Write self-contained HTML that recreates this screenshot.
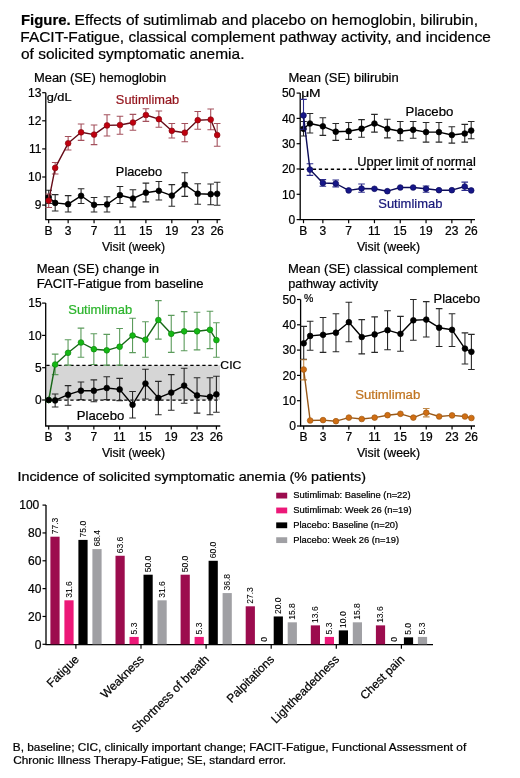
<!DOCTYPE html>
<html><head><meta charset="utf-8"><style>
html,body{margin:0;padding:0;background:#fff;}
svg{display:block;will-change:transform;}
text{stroke:currentColor;stroke-width:0.22px;}
</style></head><body>
<svg width="520" height="778" viewBox="0 0 520 778" font-family='"Liberation Sans", sans-serif'>
<rect width="520" height="778" fill="#fff"/>
<text x="21.01" y="24.80" font-size="15" fill="#000" color="#000" font-weight="bold" textLength="49.60" lengthAdjust="spacingAndGlyphs">Figure.</text>
<text x="74.56" y="24.80" font-size="15" fill="#000" color="#000" textLength="403.50" lengthAdjust="spacingAndGlyphs">Effects of sutimlimab and placebo on hemoglobin, bilirubin,</text>
<text x="20.37" y="42.20" font-size="15" fill="#000" color="#000" textLength="470.59" lengthAdjust="spacingAndGlyphs">FACIT-Fatigue, classical complement pathway activity, and incidence</text>
<text x="20.98" y="59.30" font-size="15" fill="#000" color="#000" textLength="223.48" lengthAdjust="spacingAndGlyphs">of solicited symptomatic anemia.</text>
<text x="33.97" y="82.20" font-size="12.4" fill="#000" color="#000" textLength="132.26" lengthAdjust="spacingAndGlyphs">Mean (SE) hemoglobin</text>
<path d="M45.8 92.7V219.6H220.5" stroke="#000" stroke-width="1.3" fill="none"/>
<line x1="42.20" y1="92.70" x2="45.80" y2="92.70" stroke="#000" stroke-width="1.2"/>
<line x1="42.20" y1="120.80" x2="45.80" y2="120.80" stroke="#000" stroke-width="1.2"/>
<line x1="42.20" y1="148.90" x2="45.80" y2="148.90" stroke="#000" stroke-width="1.2"/>
<line x1="42.20" y1="177.00" x2="45.80" y2="177.00" stroke="#000" stroke-width="1.2"/>
<line x1="42.20" y1="205.10" x2="45.80" y2="205.10" stroke="#000" stroke-width="1.2"/>
<line x1="48.70" y1="219.60" x2="48.70" y2="223.20" stroke="#000" stroke-width="1.2"/>
<line x1="68.14" y1="219.60" x2="68.14" y2="223.20" stroke="#000" stroke-width="1.2"/>
<line x1="94.06" y1="219.60" x2="94.06" y2="223.20" stroke="#000" stroke-width="1.2"/>
<line x1="119.98" y1="219.60" x2="119.98" y2="223.20" stroke="#000" stroke-width="1.2"/>
<line x1="145.90" y1="219.60" x2="145.90" y2="223.20" stroke="#000" stroke-width="1.2"/>
<line x1="171.82" y1="219.60" x2="171.82" y2="223.20" stroke="#000" stroke-width="1.2"/>
<line x1="197.74" y1="219.60" x2="197.74" y2="223.20" stroke="#000" stroke-width="1.2"/>
<line x1="217.18" y1="219.60" x2="217.18" y2="223.20" stroke="#000" stroke-width="1.2"/>
<text x="27.99" y="96.90" font-size="12" fill="#000" color="#000">13</text>
<text x="28.11" y="125.00" font-size="12" fill="#000" color="#000">12</text>
<text x="29.00" y="153.10" font-size="12" fill="#000" color="#000">11</text>
<text x="27.99" y="181.20" font-size="12" fill="#000" color="#000">10</text>
<text x="34.78" y="209.30" font-size="12" fill="#000" color="#000">9</text>
<text x="44.50" y="234.60" font-size="12" fill="#000" color="#000">B</text>
<text x="64.84" y="234.60" font-size="12" fill="#000" color="#000">3</text>
<text x="90.70" y="234.60" font-size="12" fill="#000" color="#000">7</text>
<text x="113.61" y="234.60" font-size="12" fill="#000" color="#000">11</text>
<text x="139.02" y="234.60" font-size="12" fill="#000" color="#000">15</text>
<text x="165.00" y="234.60" font-size="12" fill="#000" color="#000">19</text>
<text x="190.98" y="234.60" font-size="12" fill="#000" color="#000">23</text>
<text x="210.42" y="234.60" font-size="12" fill="#000" color="#000">26</text>
<text x="101.90" y="250.80" font-size="12" fill="#000" color="#000" textLength="63.15" lengthAdjust="spacingAndGlyphs">Visit (week)</text>
<text x="46.69" y="101.40" font-size="11.5" fill="#000" color="#000" textLength="24.84" lengthAdjust="spacingAndGlyphs">g/dL</text>
<text x="115.89" y="104.20" font-size="12.4" fill="#94141c" color="#94141c" textLength="63.38" lengthAdjust="spacingAndGlyphs">Sutimlimab</text>
<text x="115.88" y="175.60" font-size="12.4" fill="#000" color="#000" textLength="46.18" lengthAdjust="spacingAndGlyphs">Placebo</text>
<path d="M48.70 190.20V203.50M45.40 190.20H52.00M45.40 203.50H52.00" stroke="#282828" stroke-width="1.1" fill="none"/>
<path d="M55.18 194.60V211.00M51.88 194.60H58.48M51.88 211.00H58.48" stroke="#282828" stroke-width="1.1" fill="none"/>
<path d="M68.14 195.60V212.00M64.84 195.60H71.44M64.84 212.00H71.44" stroke="#282828" stroke-width="1.1" fill="none"/>
<path d="M81.10 188.80V203.50M77.80 188.80H84.40M77.80 203.50H84.40" stroke="#282828" stroke-width="1.1" fill="none"/>
<path d="M94.06 197.50V212.00M90.76 197.50H97.36M90.76 212.00H97.36" stroke="#282828" stroke-width="1.1" fill="none"/>
<path d="M107.02 196.70V212.00M103.72 196.70H110.32M103.72 212.00H110.32" stroke="#282828" stroke-width="1.1" fill="none"/>
<path d="M119.98 186.50V203.50M116.68 186.50H123.28M116.68 203.50H123.28" stroke="#282828" stroke-width="1.1" fill="none"/>
<path d="M132.94 189.80V207.00M129.64 189.80H136.24M129.64 207.00H136.24" stroke="#282828" stroke-width="1.1" fill="none"/>
<path d="M145.90 183.10V201.90M142.60 183.10H149.20M142.60 201.90H149.20" stroke="#282828" stroke-width="1.1" fill="none"/>
<path d="M158.86 181.50V200.00M155.56 181.50H162.16M155.56 200.00H162.16" stroke="#282828" stroke-width="1.1" fill="none"/>
<path d="M171.82 184.60V206.20M168.52 184.60H175.12M168.52 206.20H175.12" stroke="#282828" stroke-width="1.1" fill="none"/>
<path d="M184.78 172.70V196.40M181.48 172.70H188.08M181.48 196.40H188.08" stroke="#282828" stroke-width="1.1" fill="none"/>
<path d="M197.74 183.70V204.20M194.44 183.70H201.04M194.44 204.20H201.04" stroke="#282828" stroke-width="1.1" fill="none"/>
<path d="M210.70 184.00V204.80M207.40 184.00H214.00M207.40 204.80H214.00" stroke="#282828" stroke-width="1.1" fill="none"/>
<path d="M217.18 182.30V205.20M213.88 182.30H220.48M213.88 205.20H220.48" stroke="#282828" stroke-width="1.1" fill="none"/>
<path d="M48.70 197.20 L55.18 202.90 L68.14 204.20 L81.10 195.80 L94.06 204.80 L107.02 204.40 L119.98 195.20 L132.94 198.50 L145.90 192.70 L158.86 190.80 L171.82 195.60 L184.78 184.60 L197.74 193.70 L210.70 194.20 L217.18 193.80" stroke="#000" stroke-width="1.4" fill="none" stroke-linejoin="round"/>
<circle cx="48.70" cy="197.20" r="2.85" fill="#000" stroke="#000" stroke-width="0.7"/>
<circle cx="55.18" cy="202.90" r="2.85" fill="#000" stroke="#000" stroke-width="0.7"/>
<circle cx="68.14" cy="204.20" r="2.85" fill="#000" stroke="#000" stroke-width="0.7"/>
<circle cx="81.10" cy="195.80" r="2.85" fill="#000" stroke="#000" stroke-width="0.7"/>
<circle cx="94.06" cy="204.80" r="2.85" fill="#000" stroke="#000" stroke-width="0.7"/>
<circle cx="107.02" cy="204.40" r="2.85" fill="#000" stroke="#000" stroke-width="0.7"/>
<circle cx="119.98" cy="195.20" r="2.85" fill="#000" stroke="#000" stroke-width="0.7"/>
<circle cx="132.94" cy="198.50" r="2.85" fill="#000" stroke="#000" stroke-width="0.7"/>
<circle cx="145.90" cy="192.70" r="2.85" fill="#000" stroke="#000" stroke-width="0.7"/>
<circle cx="158.86" cy="190.80" r="2.85" fill="#000" stroke="#000" stroke-width="0.7"/>
<circle cx="171.82" cy="195.60" r="2.85" fill="#000" stroke="#000" stroke-width="0.7"/>
<circle cx="184.78" cy="184.60" r="2.85" fill="#000" stroke="#000" stroke-width="0.7"/>
<circle cx="197.74" cy="193.70" r="2.85" fill="#000" stroke="#000" stroke-width="0.7"/>
<circle cx="210.70" cy="194.20" r="2.85" fill="#000" stroke="#000" stroke-width="0.7"/>
<circle cx="217.18" cy="193.80" r="2.85" fill="#000" stroke="#000" stroke-width="0.7"/>
<path d="M48.70 194.00V207.50M45.40 194.00H52.00M45.40 207.50H52.00" stroke="#a4505c" stroke-width="1.1" fill="none"/>
<path d="M55.18 162.50V174.00M51.88 162.50H58.48M51.88 174.00H58.48" stroke="#a4505c" stroke-width="1.1" fill="none"/>
<path d="M68.14 136.50V150.00M64.84 136.50H71.44M64.84 150.00H71.44" stroke="#a4505c" stroke-width="1.1" fill="none"/>
<path d="M81.10 124.00V140.40M77.80 124.00H84.40M77.80 140.40H84.40" stroke="#a4505c" stroke-width="1.1" fill="none"/>
<path d="M94.06 125.00V144.60M90.76 125.00H97.36M90.76 144.60H97.36" stroke="#a4505c" stroke-width="1.1" fill="none"/>
<path d="M107.02 114.80V136.00M103.72 114.80H110.32M103.72 136.00H110.32" stroke="#a4505c" stroke-width="1.1" fill="none"/>
<path d="M119.98 116.30V134.20M116.68 116.30H123.28M116.68 134.20H123.28" stroke="#a4505c" stroke-width="1.1" fill="none"/>
<path d="M132.94 114.40V130.20M129.64 114.40H136.24M129.64 130.20H136.24" stroke="#a4505c" stroke-width="1.1" fill="none"/>
<path d="M145.90 108.80V121.40M142.60 108.80H149.20M142.60 121.40H149.20" stroke="#a4505c" stroke-width="1.1" fill="none"/>
<path d="M158.86 111.00V127.30M155.56 111.00H162.16M155.56 127.30H162.16" stroke="#a4505c" stroke-width="1.1" fill="none"/>
<path d="M171.82 123.50V138.00M168.52 123.50H175.12M168.52 138.00H175.12" stroke="#a4505c" stroke-width="1.1" fill="none"/>
<path d="M184.78 123.50V141.70M181.48 123.50H188.08M181.48 141.70H188.08" stroke="#a4505c" stroke-width="1.1" fill="none"/>
<path d="M197.74 111.50V129.20M194.44 111.50H201.04M194.44 129.20H201.04" stroke="#a4505c" stroke-width="1.1" fill="none"/>
<path d="M210.70 109.00V129.80M207.40 109.00H214.00M207.40 129.80H214.00" stroke="#a4505c" stroke-width="1.1" fill="none"/>
<path d="M217.18 123.50V146.20M213.88 123.50H220.48M213.88 146.20H220.48" stroke="#a4505c" stroke-width="1.1" fill="none"/>
<path d="M48.70 200.60 L55.18 167.90 L68.14 143.30 L81.10 132.30 L94.06 134.60 L107.02 125.40 L119.98 125.00 L132.94 122.50 L145.90 115.00 L158.86 119.20 L171.82 130.80 L184.78 132.70 L197.74 120.20 L210.70 119.60 L217.18 135.00" stroke="#660c18" stroke-width="1.4" fill="none" stroke-linejoin="round"/>
<circle cx="48.70" cy="200.60" r="2.85" fill="#c0000e" stroke="#880a14" stroke-width="0.7"/>
<circle cx="55.18" cy="167.90" r="2.85" fill="#c0000e" stroke="#880a14" stroke-width="0.7"/>
<circle cx="68.14" cy="143.30" r="2.85" fill="#c0000e" stroke="#880a14" stroke-width="0.7"/>
<circle cx="81.10" cy="132.30" r="2.85" fill="#c0000e" stroke="#880a14" stroke-width="0.7"/>
<circle cx="94.06" cy="134.60" r="2.85" fill="#c0000e" stroke="#880a14" stroke-width="0.7"/>
<circle cx="107.02" cy="125.40" r="2.85" fill="#c0000e" stroke="#880a14" stroke-width="0.7"/>
<circle cx="119.98" cy="125.00" r="2.85" fill="#c0000e" stroke="#880a14" stroke-width="0.7"/>
<circle cx="132.94" cy="122.50" r="2.85" fill="#c0000e" stroke="#880a14" stroke-width="0.7"/>
<circle cx="145.90" cy="115.00" r="2.85" fill="#c0000e" stroke="#880a14" stroke-width="0.7"/>
<circle cx="158.86" cy="119.20" r="2.85" fill="#c0000e" stroke="#880a14" stroke-width="0.7"/>
<circle cx="171.82" cy="130.80" r="2.85" fill="#c0000e" stroke="#880a14" stroke-width="0.7"/>
<circle cx="184.78" cy="132.70" r="2.85" fill="#c0000e" stroke="#880a14" stroke-width="0.7"/>
<circle cx="197.74" cy="120.20" r="2.85" fill="#c0000e" stroke="#880a14" stroke-width="0.7"/>
<circle cx="210.70" cy="119.60" r="2.85" fill="#c0000e" stroke="#880a14" stroke-width="0.7"/>
<circle cx="217.18" cy="135.00" r="2.85" fill="#c0000e" stroke="#880a14" stroke-width="0.7"/>
<text x="288.46" y="82.00" font-size="12.4" fill="#000" color="#000" textLength="110.27" lengthAdjust="spacingAndGlyphs">Mean (SE) bilirubin</text>
<path d="M300.2 93.10000000000001V219.6H475" stroke="#000" stroke-width="1.3" fill="none"/>
<line x1="296.60" y1="219.60" x2="300.20" y2="219.60" stroke="#000" stroke-width="1.2"/>
<line x1="296.60" y1="194.30" x2="300.20" y2="194.30" stroke="#000" stroke-width="1.2"/>
<line x1="296.60" y1="169.00" x2="300.20" y2="169.00" stroke="#000" stroke-width="1.2"/>
<line x1="296.60" y1="143.70" x2="300.20" y2="143.70" stroke="#000" stroke-width="1.2"/>
<line x1="296.60" y1="118.40" x2="300.20" y2="118.40" stroke="#000" stroke-width="1.2"/>
<line x1="296.60" y1="93.10" x2="300.20" y2="93.10" stroke="#000" stroke-width="1.2"/>
<line x1="303.50" y1="219.60" x2="303.50" y2="223.20" stroke="#000" stroke-width="1.2"/>
<line x1="322.85" y1="219.60" x2="322.85" y2="223.20" stroke="#000" stroke-width="1.2"/>
<line x1="348.65" y1="219.60" x2="348.65" y2="223.20" stroke="#000" stroke-width="1.2"/>
<line x1="374.45" y1="219.60" x2="374.45" y2="223.20" stroke="#000" stroke-width="1.2"/>
<line x1="400.25" y1="219.60" x2="400.25" y2="223.20" stroke="#000" stroke-width="1.2"/>
<line x1="426.05" y1="219.60" x2="426.05" y2="223.20" stroke="#000" stroke-width="1.2"/>
<line x1="451.85" y1="219.60" x2="451.85" y2="223.20" stroke="#000" stroke-width="1.2"/>
<line x1="471.20" y1="219.60" x2="471.20" y2="223.20" stroke="#000" stroke-width="1.2"/>
<text x="288.56" y="223.80" font-size="12" fill="#000" color="#000">0</text>
<text x="281.89" y="198.50" font-size="12" fill="#000" color="#000">10</text>
<text x="281.89" y="173.20" font-size="12" fill="#000" color="#000">20</text>
<text x="281.89" y="147.90" font-size="12" fill="#000" color="#000">30</text>
<text x="281.89" y="122.60" font-size="12" fill="#000" color="#000">40</text>
<text x="281.89" y="97.30" font-size="12" fill="#000" color="#000">50</text>
<text x="299.30" y="234.60" font-size="12" fill="#000" color="#000">B</text>
<text x="319.55" y="234.60" font-size="12" fill="#000" color="#000">3</text>
<text x="345.29" y="234.60" font-size="12" fill="#000" color="#000">7</text>
<text x="368.08" y="234.60" font-size="12" fill="#000" color="#000">11</text>
<text x="393.37" y="234.60" font-size="12" fill="#000" color="#000">15</text>
<text x="419.23" y="234.60" font-size="12" fill="#000" color="#000">19</text>
<text x="445.09" y="234.60" font-size="12" fill="#000" color="#000">23</text>
<text x="464.44" y="234.60" font-size="12" fill="#000" color="#000">26</text>
<text x="356.90" y="250.80" font-size="12" fill="#000" color="#000" textLength="63.15" lengthAdjust="spacingAndGlyphs">Visit (week)</text>
<text x="301.17" y="97.40" font-size="11.5" fill="#000" color="#000" textLength="19.43" lengthAdjust="spacingAndGlyphs">μM</text>
<line x1="300.8" y1="169.2" x2="474.5" y2="169.2" stroke="#000" stroke-width="1.4" stroke-dasharray="3.3 2.7"/>
<text x="357.30" y="166.20" font-size="12.5" fill="#000" color="#000" textLength="118.50" lengthAdjust="spacingAndGlyphs">Upper limit of normal</text>
<text x="405.64" y="115.80" font-size="12.4" fill="#000" color="#000" textLength="47.73" lengthAdjust="spacingAndGlyphs">Placebo</text>
<text x="378.28" y="208.00" font-size="12.4" fill="#161678" color="#161678" textLength="64.09" lengthAdjust="spacingAndGlyphs">Sutimlimab</text>
<path d="M303.50 121.50V136.00M300.20 121.50H306.80M300.20 136.00H306.80" stroke="#282828" stroke-width="1.1" fill="none"/>
<path d="M309.95 113.50V133.00M306.65 113.50H313.25M306.65 133.00H313.25" stroke="#282828" stroke-width="1.1" fill="none"/>
<path d="M322.85 117.70V135.40M319.55 117.70H326.15M319.55 135.40H326.15" stroke="#282828" stroke-width="1.1" fill="none"/>
<path d="M335.75 123.50V140.40M332.45 123.50H339.05M332.45 140.40H339.05" stroke="#282828" stroke-width="1.1" fill="none"/>
<path d="M348.65 122.50V139.40M345.35 122.50H351.95M345.35 139.40H351.95" stroke="#282828" stroke-width="1.1" fill="none"/>
<path d="M361.55 119.60V137.30M358.25 119.60H364.85M358.25 137.30H364.85" stroke="#282828" stroke-width="1.1" fill="none"/>
<path d="M374.45 114.40V132.10M371.15 114.40H377.75M371.15 132.10H377.75" stroke="#282828" stroke-width="1.1" fill="none"/>
<path d="M387.35 119.20V137.90M384.05 119.20H390.65M384.05 137.90H390.65" stroke="#282828" stroke-width="1.1" fill="none"/>
<path d="M400.25 121.50V140.80M396.95 121.50H403.55M396.95 140.80H403.55" stroke="#282828" stroke-width="1.1" fill="none"/>
<path d="M413.15 121.50V138.30M409.85 121.50H416.45M409.85 138.30H416.45" stroke="#282828" stroke-width="1.1" fill="none"/>
<path d="M426.05 122.50V142.10M422.75 122.50H429.35M422.75 142.10H429.35" stroke="#282828" stroke-width="1.1" fill="none"/>
<path d="M438.95 122.50V142.10M435.65 122.50H442.25M435.65 142.10H442.25" stroke="#282828" stroke-width="1.1" fill="none"/>
<path d="M451.85 126.70V143.10M448.55 126.70H455.15M448.55 143.10H455.15" stroke="#282828" stroke-width="1.1" fill="none"/>
<path d="M464.75 124.40V142.10M461.45 124.40H468.05M461.45 142.10H468.05" stroke="#282828" stroke-width="1.1" fill="none"/>
<path d="M471.20 121.50V138.80M467.90 121.50H474.50M467.90 138.80H474.50" stroke="#282828" stroke-width="1.1" fill="none"/>
<path d="M303.50 128.80 L309.95 123.50 L322.85 126.30 L335.75 131.70 L348.65 131.20 L361.55 128.70 L374.45 123.50 L387.35 128.80 L400.25 131.20 L413.15 129.80 L426.05 132.10 L438.95 132.10 L451.85 135.00 L464.75 133.50 L471.20 130.60" stroke="#000" stroke-width="1.4" fill="none" stroke-linejoin="round"/>
<circle cx="303.50" cy="128.80" r="2.85" fill="#000" stroke="#000" stroke-width="0.7"/>
<circle cx="309.95" cy="123.50" r="2.85" fill="#000" stroke="#000" stroke-width="0.7"/>
<circle cx="322.85" cy="126.30" r="2.85" fill="#000" stroke="#000" stroke-width="0.7"/>
<circle cx="335.75" cy="131.70" r="2.85" fill="#000" stroke="#000" stroke-width="0.7"/>
<circle cx="348.65" cy="131.20" r="2.85" fill="#000" stroke="#000" stroke-width="0.7"/>
<circle cx="361.55" cy="128.70" r="2.85" fill="#000" stroke="#000" stroke-width="0.7"/>
<circle cx="374.45" cy="123.50" r="2.85" fill="#000" stroke="#000" stroke-width="0.7"/>
<circle cx="387.35" cy="128.80" r="2.85" fill="#000" stroke="#000" stroke-width="0.7"/>
<circle cx="400.25" cy="131.20" r="2.85" fill="#000" stroke="#000" stroke-width="0.7"/>
<circle cx="413.15" cy="129.80" r="2.85" fill="#000" stroke="#000" stroke-width="0.7"/>
<circle cx="426.05" cy="132.10" r="2.85" fill="#000" stroke="#000" stroke-width="0.7"/>
<circle cx="438.95" cy="132.10" r="2.85" fill="#000" stroke="#000" stroke-width="0.7"/>
<circle cx="451.85" cy="135.00" r="2.85" fill="#000" stroke="#000" stroke-width="0.7"/>
<circle cx="464.75" cy="133.50" r="2.85" fill="#000" stroke="#000" stroke-width="0.7"/>
<circle cx="471.20" cy="130.60" r="2.85" fill="#000" stroke="#000" stroke-width="0.7"/>
<path d="M303.50 99.40V129.20M300.20 99.40H306.80M300.20 129.20H306.80" stroke="#2c2c8c" stroke-width="1.1" fill="none"/>
<path d="M309.95 163.80V175.40M306.65 163.80H313.25M306.65 175.40H313.25" stroke="#2c2c8c" stroke-width="1.1" fill="none"/>
<path d="M322.85 179.60V186.30M319.55 179.60H326.15M319.55 186.30H326.15" stroke="#2c2c8c" stroke-width="1.1" fill="none"/>
<path d="M335.75 180.00V186.90M332.45 180.00H339.05M332.45 186.90H339.05" stroke="#2c2c8c" stroke-width="1.1" fill="none"/>
<path d="M361.55 184.00V192.30M358.25 184.00H364.85M358.25 192.30H364.85" stroke="#2c2c8c" stroke-width="1.1" fill="none"/>
<path d="M426.05 186.00V192.30M422.75 186.00H429.35M422.75 192.30H429.35" stroke="#2c2c8c" stroke-width="1.1" fill="none"/>
<path d="M464.75 182.10V190.40M461.45 182.10H468.05M461.45 190.40H468.05" stroke="#2c2c8c" stroke-width="1.1" fill="none"/>
<path d="M303.50 115.40 L309.95 169.60 L322.85 183.00 L335.75 183.50 L348.65 190.40 L361.55 188.50 L374.45 188.80 L387.35 191.20 L400.25 187.50 L413.15 187.50 L426.05 188.80 L438.95 190.20 L451.85 190.20 L464.75 186.50 L471.20 190.40" stroke="#0c0c58" stroke-width="1.4" fill="none" stroke-linejoin="round"/>
<circle cx="303.50" cy="115.40" r="2.85" fill="#161688" stroke="#0e0e60" stroke-width="0.7"/>
<circle cx="309.95" cy="169.60" r="2.85" fill="#161688" stroke="#0e0e60" stroke-width="0.7"/>
<circle cx="322.85" cy="183.00" r="2.85" fill="#161688" stroke="#0e0e60" stroke-width="0.7"/>
<circle cx="335.75" cy="183.50" r="2.85" fill="#161688" stroke="#0e0e60" stroke-width="0.7"/>
<circle cx="348.65" cy="190.40" r="2.85" fill="#161688" stroke="#0e0e60" stroke-width="0.7"/>
<circle cx="361.55" cy="188.50" r="2.85" fill="#161688" stroke="#0e0e60" stroke-width="0.7"/>
<circle cx="374.45" cy="188.80" r="2.85" fill="#161688" stroke="#0e0e60" stroke-width="0.7"/>
<circle cx="387.35" cy="191.20" r="2.85" fill="#161688" stroke="#0e0e60" stroke-width="0.7"/>
<circle cx="400.25" cy="187.50" r="2.85" fill="#161688" stroke="#0e0e60" stroke-width="0.7"/>
<circle cx="413.15" cy="187.50" r="2.85" fill="#161688" stroke="#0e0e60" stroke-width="0.7"/>
<circle cx="426.05" cy="188.80" r="2.85" fill="#161688" stroke="#0e0e60" stroke-width="0.7"/>
<circle cx="438.95" cy="190.20" r="2.85" fill="#161688" stroke="#0e0e60" stroke-width="0.7"/>
<circle cx="451.85" cy="190.20" r="2.85" fill="#161688" stroke="#0e0e60" stroke-width="0.7"/>
<circle cx="464.75" cy="186.50" r="2.85" fill="#161688" stroke="#0e0e60" stroke-width="0.7"/>
<circle cx="471.20" cy="190.40" r="2.85" fill="#161688" stroke="#0e0e60" stroke-width="0.7"/>
<text x="36.76" y="273.10" font-size="12.4" fill="#000" color="#000" textLength="122.37" lengthAdjust="spacingAndGlyphs">Mean (SE) change in</text>
<text x="36.75" y="287.70" font-size="12.4" fill="#000" color="#000" textLength="166.72" lengthAdjust="spacingAndGlyphs">FACIT-Fatigue from baseline</text>
<rect x="46.3" y="365.4" width="173.7" height="34.7" fill="#d6d6d6"/>
<line x1="46.3" y1="365.4" x2="219.5" y2="365.4" stroke="#000" stroke-width="1.4" stroke-dasharray="3.3 2.7"/>
<line x1="46.3" y1="400.1" x2="219.5" y2="400.1" stroke="#000" stroke-width="1.4" stroke-dasharray="3.3 2.7"/>
<path d="M45.7 303.1V426H220.3" stroke="#000" stroke-width="1.3" fill="none"/>
<line x1="42.10" y1="400.00" x2="45.70" y2="400.00" stroke="#000" stroke-width="1.2"/>
<line x1="42.10" y1="367.70" x2="45.70" y2="367.70" stroke="#000" stroke-width="1.2"/>
<line x1="42.10" y1="335.40" x2="45.70" y2="335.40" stroke="#000" stroke-width="1.2"/>
<line x1="42.10" y1="303.10" x2="45.70" y2="303.10" stroke="#000" stroke-width="1.2"/>
<line x1="48.70" y1="426.00" x2="48.70" y2="429.60" stroke="#000" stroke-width="1.2"/>
<line x1="68.05" y1="426.00" x2="68.05" y2="429.60" stroke="#000" stroke-width="1.2"/>
<line x1="93.85" y1="426.00" x2="93.85" y2="429.60" stroke="#000" stroke-width="1.2"/>
<line x1="119.65" y1="426.00" x2="119.65" y2="429.60" stroke="#000" stroke-width="1.2"/>
<line x1="145.45" y1="426.00" x2="145.45" y2="429.60" stroke="#000" stroke-width="1.2"/>
<line x1="171.25" y1="426.00" x2="171.25" y2="429.60" stroke="#000" stroke-width="1.2"/>
<line x1="197.05" y1="426.00" x2="197.05" y2="429.60" stroke="#000" stroke-width="1.2"/>
<line x1="216.40" y1="426.00" x2="216.40" y2="429.60" stroke="#000" stroke-width="1.2"/>
<text x="34.96" y="404.20" font-size="12" fill="#000" color="#000">0</text>
<text x="34.96" y="371.90" font-size="12" fill="#000" color="#000">5</text>
<text x="28.29" y="339.60" font-size="12" fill="#000" color="#000">10</text>
<text x="28.29" y="307.30" font-size="12" fill="#000" color="#000">15</text>
<text x="44.50" y="440.60" font-size="12" fill="#000" color="#000">B</text>
<text x="64.75" y="440.60" font-size="12" fill="#000" color="#000">3</text>
<text x="90.49" y="440.60" font-size="12" fill="#000" color="#000">7</text>
<text x="113.28" y="440.60" font-size="12" fill="#000" color="#000">11</text>
<text x="138.57" y="440.60" font-size="12" fill="#000" color="#000">15</text>
<text x="164.43" y="440.60" font-size="12" fill="#000" color="#000">19</text>
<text x="190.29" y="440.60" font-size="12" fill="#000" color="#000">23</text>
<text x="209.64" y="440.60" font-size="12" fill="#000" color="#000">26</text>
<text x="101.90" y="456.80" font-size="12" fill="#000" color="#000" textLength="63.15" lengthAdjust="spacingAndGlyphs">Visit (week)</text>
<text x="220.39" y="368.70" font-size="11.5" fill="#000" color="#000" textLength="20.90" lengthAdjust="spacingAndGlyphs">CIC</text>
<text x="68.28" y="314.30" font-size="12.4" fill="#2cb42c" color="#2cb42c" textLength="63.99" lengthAdjust="spacingAndGlyphs">Sutimlimab</text>
<text x="76.85" y="419.50" font-size="12.4" fill="#000" color="#000" textLength="47.42" lengthAdjust="spacingAndGlyphs">Placebo</text>
<path d="M55.15 354.10V374.60M51.85 354.10H58.45M51.85 374.60H58.45" stroke="#5c9c5c" stroke-width="1.1" fill="none"/>
<path d="M68.05 339.70V365.10M64.75 339.70H71.35M64.75 365.10H71.35" stroke="#5c9c5c" stroke-width="1.1" fill="none"/>
<path d="M80.95 328.10V357.30M77.65 328.10H84.25M77.65 357.30H84.25" stroke="#5c9c5c" stroke-width="1.1" fill="none"/>
<path d="M93.85 333.80V364.50M90.55 333.80H97.15M90.55 364.50H97.15" stroke="#5c9c5c" stroke-width="1.1" fill="none"/>
<path d="M106.75 334.40V365.10M103.45 334.40H110.05M103.45 365.10H110.05" stroke="#5c9c5c" stroke-width="1.1" fill="none"/>
<path d="M119.65 328.50V365.10M116.35 328.50H122.95M116.35 365.10H122.95" stroke="#5c9c5c" stroke-width="1.1" fill="none"/>
<path d="M132.55 318.30V352.60M129.25 318.30H135.85M129.25 352.60H135.85" stroke="#5c9c5c" stroke-width="1.1" fill="none"/>
<path d="M145.45 321.70V357.30M142.15 321.70H148.75M142.15 357.30H148.75" stroke="#5c9c5c" stroke-width="1.1" fill="none"/>
<path d="M158.35 300.60V339.10M155.05 300.60H161.65M155.05 339.10H161.65" stroke="#5c9c5c" stroke-width="1.1" fill="none"/>
<path d="M171.25 315.40V352.40M167.95 315.40H174.55M167.95 352.40H174.55" stroke="#5c9c5c" stroke-width="1.1" fill="none"/>
<path d="M184.15 311.60V350.70M180.85 311.60H187.45M180.85 350.70H187.45" stroke="#5c9c5c" stroke-width="1.1" fill="none"/>
<path d="M197.05 312.20V349.90M193.75 312.20H200.35M193.75 349.90H200.35" stroke="#5c9c5c" stroke-width="1.1" fill="none"/>
<path d="M209.95 311.20V348.60M206.65 311.20H213.25M206.65 348.60H213.25" stroke="#5c9c5c" stroke-width="1.1" fill="none"/>
<path d="M216.40 322.80V357.30M213.10 322.80H219.70M213.10 357.30H219.70" stroke="#5c9c5c" stroke-width="1.1" fill="none"/>
<path d="M48.70 400.00 L55.15 364.50 L68.05 352.80 L80.95 342.50 L93.85 349.20 L106.75 350.30 L119.65 346.70 L132.55 335.50 L145.45 339.70 L158.35 320.00 L171.25 333.80 L184.15 331.30 L197.05 331.30 L209.95 329.80 L216.40 340.10" stroke="#186818" stroke-width="1.4" fill="none" stroke-linejoin="round"/>
<circle cx="48.70" cy="400.00" r="2.85" fill="#14b814" stroke="#108a10" stroke-width="0.7"/>
<circle cx="55.15" cy="364.50" r="2.85" fill="#14b814" stroke="#108a10" stroke-width="0.7"/>
<circle cx="68.05" cy="352.80" r="2.85" fill="#14b814" stroke="#108a10" stroke-width="0.7"/>
<circle cx="80.95" cy="342.50" r="2.85" fill="#14b814" stroke="#108a10" stroke-width="0.7"/>
<circle cx="93.85" cy="349.20" r="2.85" fill="#14b814" stroke="#108a10" stroke-width="0.7"/>
<circle cx="106.75" cy="350.30" r="2.85" fill="#14b814" stroke="#108a10" stroke-width="0.7"/>
<circle cx="119.65" cy="346.70" r="2.85" fill="#14b814" stroke="#108a10" stroke-width="0.7"/>
<circle cx="132.55" cy="335.50" r="2.85" fill="#14b814" stroke="#108a10" stroke-width="0.7"/>
<circle cx="145.45" cy="339.70" r="2.85" fill="#14b814" stroke="#108a10" stroke-width="0.7"/>
<circle cx="158.35" cy="320.00" r="2.85" fill="#14b814" stroke="#108a10" stroke-width="0.7"/>
<circle cx="171.25" cy="333.80" r="2.85" fill="#14b814" stroke="#108a10" stroke-width="0.7"/>
<circle cx="184.15" cy="331.30" r="2.85" fill="#14b814" stroke="#108a10" stroke-width="0.7"/>
<circle cx="197.05" cy="331.30" r="2.85" fill="#14b814" stroke="#108a10" stroke-width="0.7"/>
<circle cx="209.95" cy="329.80" r="2.85" fill="#14b814" stroke="#108a10" stroke-width="0.7"/>
<circle cx="216.40" cy="340.10" r="2.85" fill="#14b814" stroke="#108a10" stroke-width="0.7"/>
<path d="M55.15 394.00V407.00M51.85 394.00H58.45M51.85 407.00H58.45" stroke="#282828" stroke-width="1.1" fill="none"/>
<path d="M68.05 385.60V405.30M64.75 385.60H71.35M64.75 405.30H71.35" stroke="#282828" stroke-width="1.1" fill="none"/>
<path d="M80.95 382.00V399.60M77.65 382.00H84.25M77.65 399.60H84.25" stroke="#282828" stroke-width="1.1" fill="none"/>
<path d="M93.85 379.90V401.70M90.55 379.90H97.15M90.55 401.70H97.15" stroke="#282828" stroke-width="1.1" fill="none"/>
<path d="M106.75 376.70V399.60M103.45 376.70H110.05M103.45 399.60H110.05" stroke="#282828" stroke-width="1.1" fill="none"/>
<path d="M119.65 378.40V400.60M116.35 378.40H122.95M116.35 400.60H122.95" stroke="#282828" stroke-width="1.1" fill="none"/>
<path d="M132.55 391.50V418.00M129.25 391.50H135.85M129.25 418.00H135.85" stroke="#282828" stroke-width="1.1" fill="none"/>
<path d="M145.45 369.30V399.00M142.15 369.30H148.75M142.15 399.00H148.75" stroke="#282828" stroke-width="1.1" fill="none"/>
<path d="M158.35 381.40V414.80M155.05 381.40H161.65M155.05 414.80H161.65" stroke="#282828" stroke-width="1.1" fill="none"/>
<path d="M171.25 374.60V410.20M167.95 374.60H174.55M167.95 410.20H174.55" stroke="#282828" stroke-width="1.1" fill="none"/>
<path d="M184.15 368.30V403.20M180.85 368.30H187.45M180.85 403.20H187.45" stroke="#282828" stroke-width="1.1" fill="none"/>
<path d="M197.05 377.80V413.10M193.75 377.80H200.35M193.75 413.10H200.35" stroke="#282828" stroke-width="1.1" fill="none"/>
<path d="M209.95 377.80V414.80M206.65 377.80H213.25M206.65 414.80H213.25" stroke="#282828" stroke-width="1.1" fill="none"/>
<path d="M216.40 376.30V412.30M213.10 376.30H219.70M213.10 412.30H219.70" stroke="#282828" stroke-width="1.1" fill="none"/>
<path d="M48.70 400.00 L55.15 400.40 L68.05 394.70 L80.95 390.70 L93.85 390.70 L106.75 388.00 L119.65 389.40 L132.55 404.70 L145.45 383.50 L158.35 397.90 L171.25 392.60 L184.15 385.60 L197.05 395.40 L209.95 396.80 L216.40 394.30" stroke="#000" stroke-width="1.4" fill="none" stroke-linejoin="round"/>
<circle cx="48.70" cy="400.00" r="2.85" fill="#000" stroke="#000" stroke-width="0.7"/>
<circle cx="55.15" cy="400.40" r="2.85" fill="#000" stroke="#000" stroke-width="0.7"/>
<circle cx="68.05" cy="394.70" r="2.85" fill="#000" stroke="#000" stroke-width="0.7"/>
<circle cx="80.95" cy="390.70" r="2.85" fill="#000" stroke="#000" stroke-width="0.7"/>
<circle cx="93.85" cy="390.70" r="2.85" fill="#000" stroke="#000" stroke-width="0.7"/>
<circle cx="106.75" cy="388.00" r="2.85" fill="#000" stroke="#000" stroke-width="0.7"/>
<circle cx="119.65" cy="389.40" r="2.85" fill="#000" stroke="#000" stroke-width="0.7"/>
<circle cx="132.55" cy="404.70" r="2.85" fill="#000" stroke="#000" stroke-width="0.7"/>
<circle cx="145.45" cy="383.50" r="2.85" fill="#000" stroke="#000" stroke-width="0.7"/>
<circle cx="158.35" cy="397.90" r="2.85" fill="#000" stroke="#000" stroke-width="0.7"/>
<circle cx="171.25" cy="392.60" r="2.85" fill="#000" stroke="#000" stroke-width="0.7"/>
<circle cx="184.15" cy="385.60" r="2.85" fill="#000" stroke="#000" stroke-width="0.7"/>
<circle cx="197.05" cy="395.40" r="2.85" fill="#000" stroke="#000" stroke-width="0.7"/>
<circle cx="209.95" cy="396.80" r="2.85" fill="#000" stroke="#000" stroke-width="0.7"/>
<circle cx="216.40" cy="394.30" r="2.85" fill="#000" stroke="#000" stroke-width="0.7"/>
<text x="287.96" y="273.00" font-size="12.4" fill="#000" color="#000" textLength="189.31" lengthAdjust="spacingAndGlyphs">Mean (SE) classical complement</text>
<text x="288.24" y="287.70" font-size="12.4" fill="#000" color="#000" textLength="89.86" lengthAdjust="spacingAndGlyphs">pathway activity</text>
<path d="M300.6 299.5V426.0H475" stroke="#000" stroke-width="1.3" fill="none"/>
<line x1="297.00" y1="426.00" x2="300.60" y2="426.00" stroke="#000" stroke-width="1.2"/>
<line x1="297.00" y1="400.70" x2="300.60" y2="400.70" stroke="#000" stroke-width="1.2"/>
<line x1="297.00" y1="375.40" x2="300.60" y2="375.40" stroke="#000" stroke-width="1.2"/>
<line x1="297.00" y1="350.10" x2="300.60" y2="350.10" stroke="#000" stroke-width="1.2"/>
<line x1="297.00" y1="324.80" x2="300.60" y2="324.80" stroke="#000" stroke-width="1.2"/>
<line x1="297.00" y1="299.50" x2="300.60" y2="299.50" stroke="#000" stroke-width="1.2"/>
<line x1="303.70" y1="426.00" x2="303.70" y2="429.60" stroke="#000" stroke-width="1.2"/>
<line x1="323.05" y1="426.00" x2="323.05" y2="429.60" stroke="#000" stroke-width="1.2"/>
<line x1="348.85" y1="426.00" x2="348.85" y2="429.60" stroke="#000" stroke-width="1.2"/>
<line x1="374.65" y1="426.00" x2="374.65" y2="429.60" stroke="#000" stroke-width="1.2"/>
<line x1="400.45" y1="426.00" x2="400.45" y2="429.60" stroke="#000" stroke-width="1.2"/>
<line x1="426.25" y1="426.00" x2="426.25" y2="429.60" stroke="#000" stroke-width="1.2"/>
<line x1="452.05" y1="426.00" x2="452.05" y2="429.60" stroke="#000" stroke-width="1.2"/>
<line x1="471.40" y1="426.00" x2="471.40" y2="429.60" stroke="#000" stroke-width="1.2"/>
<text x="289.16" y="430.20" font-size="12" fill="#000" color="#000">0</text>
<text x="282.49" y="404.90" font-size="12" fill="#000" color="#000">10</text>
<text x="282.49" y="379.60" font-size="12" fill="#000" color="#000">20</text>
<text x="282.49" y="354.30" font-size="12" fill="#000" color="#000">30</text>
<text x="282.49" y="329.00" font-size="12" fill="#000" color="#000">40</text>
<text x="282.49" y="303.70" font-size="12" fill="#000" color="#000">50</text>
<text x="299.50" y="440.60" font-size="12" fill="#000" color="#000">B</text>
<text x="319.75" y="440.60" font-size="12" fill="#000" color="#000">3</text>
<text x="345.49" y="440.60" font-size="12" fill="#000" color="#000">7</text>
<text x="368.28" y="440.60" font-size="12" fill="#000" color="#000">11</text>
<text x="393.57" y="440.60" font-size="12" fill="#000" color="#000">15</text>
<text x="419.43" y="440.60" font-size="12" fill="#000" color="#000">19</text>
<text x="445.29" y="440.60" font-size="12" fill="#000" color="#000">23</text>
<text x="464.64" y="440.60" font-size="12" fill="#000" color="#000">26</text>
<text x="356.90" y="456.80" font-size="12" fill="#000" color="#000" textLength="63.15" lengthAdjust="spacingAndGlyphs">Visit (week)</text>
<text x="303.89" y="302.40" font-size="11.5" fill="#000" color="#000" textLength="9.32" lengthAdjust="spacingAndGlyphs">%</text>
<text x="433.57" y="302.70" font-size="12.4" fill="#000" color="#000" textLength="46.49" lengthAdjust="spacingAndGlyphs">Placebo</text>
<text x="355.17" y="399.40" font-size="12.4" fill="#c07420" color="#c07420" textLength="65.10" lengthAdjust="spacingAndGlyphs">Sutimlimab</text>
<path d="M303.70 326.40V359.40M300.40 326.40H307.00M300.40 359.40H307.00" stroke="#282828" stroke-width="1.1" fill="none"/>
<path d="M310.15 321.30V350.30M306.85 321.30H313.45M306.85 350.30H313.45" stroke="#282828" stroke-width="1.1" fill="none"/>
<path d="M323.05 317.50V352.40M319.75 317.50H326.35M319.75 352.40H326.35" stroke="#282828" stroke-width="1.1" fill="none"/>
<path d="M335.95 313.70V351.80M332.65 313.70H339.25M332.65 351.80H339.25" stroke="#282828" stroke-width="1.1" fill="none"/>
<path d="M348.85 302.30V341.80M345.55 302.30H352.15M345.55 341.80H352.15" stroke="#282828" stroke-width="1.1" fill="none"/>
<path d="M361.75 319.60V353.90M358.45 319.60H365.05M358.45 353.90H365.05" stroke="#282828" stroke-width="1.1" fill="none"/>
<path d="M374.65 316.90V352.40M371.35 316.90H377.95M371.35 352.40H377.95" stroke="#282828" stroke-width="1.1" fill="none"/>
<path d="M387.55 310.70V349.70M384.25 310.70H390.85M384.25 349.70H390.85" stroke="#282828" stroke-width="1.1" fill="none"/>
<path d="M400.45 316.40V351.30M397.15 316.40H403.75M397.15 351.30H403.75" stroke="#282828" stroke-width="1.1" fill="none"/>
<path d="M413.35 299.50V340.30M410.05 299.50H416.65M410.05 340.30H416.65" stroke="#282828" stroke-width="1.1" fill="none"/>
<path d="M426.25 301.60V337.00M422.95 301.60H429.55M422.95 337.00H429.55" stroke="#282828" stroke-width="1.1" fill="none"/>
<path d="M439.15 308.60V346.50M435.85 308.60H442.45M435.85 346.50H442.45" stroke="#282828" stroke-width="1.1" fill="none"/>
<path d="M452.05 313.70V346.50M448.75 313.70H455.35M448.75 346.50H455.35" stroke="#282828" stroke-width="1.1" fill="none"/>
<path d="M464.95 332.90V364.00M461.65 332.90H468.25M461.65 364.00H468.25" stroke="#282828" stroke-width="1.1" fill="none"/>
<path d="M471.40 334.40V369.50M468.10 334.40H474.70M468.10 369.50H474.70" stroke="#282828" stroke-width="1.1" fill="none"/>
<path d="M303.70 343.30 L310.15 335.90 L323.05 334.80 L335.95 332.70 L348.85 322.20 L361.75 337.00 L374.65 334.40 L387.55 330.20 L400.45 333.80 L413.35 320.30 L426.25 319.60 L439.15 327.70 L452.05 329.80 L464.95 348.60 L471.40 351.80" stroke="#000" stroke-width="1.4" fill="none" stroke-linejoin="round"/>
<circle cx="303.70" cy="343.30" r="2.85" fill="#000" stroke="#000" stroke-width="0.7"/>
<circle cx="310.15" cy="335.90" r="2.85" fill="#000" stroke="#000" stroke-width="0.7"/>
<circle cx="323.05" cy="334.80" r="2.85" fill="#000" stroke="#000" stroke-width="0.7"/>
<circle cx="335.95" cy="332.70" r="2.85" fill="#000" stroke="#000" stroke-width="0.7"/>
<circle cx="348.85" cy="322.20" r="2.85" fill="#000" stroke="#000" stroke-width="0.7"/>
<circle cx="361.75" cy="337.00" r="2.85" fill="#000" stroke="#000" stroke-width="0.7"/>
<circle cx="374.65" cy="334.40" r="2.85" fill="#000" stroke="#000" stroke-width="0.7"/>
<circle cx="387.55" cy="330.20" r="2.85" fill="#000" stroke="#000" stroke-width="0.7"/>
<circle cx="400.45" cy="333.80" r="2.85" fill="#000" stroke="#000" stroke-width="0.7"/>
<circle cx="413.35" cy="320.30" r="2.85" fill="#000" stroke="#000" stroke-width="0.7"/>
<circle cx="426.25" cy="319.60" r="2.85" fill="#000" stroke="#000" stroke-width="0.7"/>
<circle cx="439.15" cy="327.70" r="2.85" fill="#000" stroke="#000" stroke-width="0.7"/>
<circle cx="452.05" cy="329.80" r="2.85" fill="#000" stroke="#000" stroke-width="0.7"/>
<circle cx="464.95" cy="348.60" r="2.85" fill="#000" stroke="#000" stroke-width="0.7"/>
<circle cx="471.40" cy="351.80" r="2.85" fill="#000" stroke="#000" stroke-width="0.7"/>
<path d="M303.70 359.80V379.90M300.40 359.80H307.00M300.40 379.90H307.00" stroke="#c08848" stroke-width="1.1" fill="none"/>
<path d="M426.25 408.50V416.90M422.95 408.50H429.55M422.95 416.90H429.55" stroke="#c08848" stroke-width="1.1" fill="none"/>
<path d="M303.70 369.50 L310.15 420.50 L323.05 420.10 L335.95 421.20 L348.85 417.60 L361.75 419.00 L374.65 417.60 L387.55 415.20 L400.45 413.80 L413.35 417.60 L426.25 412.70 L439.15 416.50 L452.05 415.40 L464.95 416.50 L471.40 418.00" stroke="#985818" stroke-width="1.4" fill="none" stroke-linejoin="round"/>
<circle cx="303.70" cy="369.50" r="2.85" fill="#d06e14" stroke="#a05a12" stroke-width="0.7"/>
<circle cx="310.15" cy="420.50" r="2.85" fill="#d06e14" stroke="#a05a12" stroke-width="0.7"/>
<circle cx="323.05" cy="420.10" r="2.85" fill="#d06e14" stroke="#a05a12" stroke-width="0.7"/>
<circle cx="335.95" cy="421.20" r="2.85" fill="#d06e14" stroke="#a05a12" stroke-width="0.7"/>
<circle cx="348.85" cy="417.60" r="2.85" fill="#d06e14" stroke="#a05a12" stroke-width="0.7"/>
<circle cx="361.75" cy="419.00" r="2.85" fill="#d06e14" stroke="#a05a12" stroke-width="0.7"/>
<circle cx="374.65" cy="417.60" r="2.85" fill="#d06e14" stroke="#a05a12" stroke-width="0.7"/>
<circle cx="387.55" cy="415.20" r="2.85" fill="#d06e14" stroke="#a05a12" stroke-width="0.7"/>
<circle cx="400.45" cy="413.80" r="2.85" fill="#d06e14" stroke="#a05a12" stroke-width="0.7"/>
<circle cx="413.35" cy="417.60" r="2.85" fill="#d06e14" stroke="#a05a12" stroke-width="0.7"/>
<circle cx="426.25" cy="412.70" r="2.85" fill="#d06e14" stroke="#a05a12" stroke-width="0.7"/>
<circle cx="439.15" cy="416.50" r="2.85" fill="#d06e14" stroke="#a05a12" stroke-width="0.7"/>
<circle cx="452.05" cy="415.40" r="2.85" fill="#d06e14" stroke="#a05a12" stroke-width="0.7"/>
<circle cx="464.95" cy="416.50" r="2.85" fill="#d06e14" stroke="#a05a12" stroke-width="0.7"/>
<circle cx="471.40" cy="418.00" r="2.85" fill="#d06e14" stroke="#a05a12" stroke-width="0.7"/>
<text x="17.51" y="481.20" font-size="13" fill="#000" color="#000" textLength="348.45" lengthAdjust="spacingAndGlyphs">Incidence of solicited symptomatic anemia (% patients)</text>
<path d="M46 505.10V644.6H433" stroke="#000" stroke-width="1.3" fill="none"/>
<line x1="42.50" y1="644.30" x2="46.00" y2="644.30" stroke="#000" stroke-width="1.2"/>
<text x="34.66" y="648.50" font-size="12" fill="#000" color="#000">0</text>
<line x1="42.50" y1="616.46" x2="46.00" y2="616.46" stroke="#000" stroke-width="1.2"/>
<text x="27.99" y="620.66" font-size="12" fill="#000" color="#000">20</text>
<line x1="42.50" y1="588.62" x2="46.00" y2="588.62" stroke="#000" stroke-width="1.2"/>
<text x="27.99" y="592.82" font-size="12" fill="#000" color="#000">40</text>
<line x1="42.50" y1="560.78" x2="46.00" y2="560.78" stroke="#000" stroke-width="1.2"/>
<text x="27.99" y="564.98" font-size="12" fill="#000" color="#000">60</text>
<line x1="42.50" y1="532.94" x2="46.00" y2="532.94" stroke="#000" stroke-width="1.2"/>
<text x="27.99" y="537.14" font-size="12" fill="#000" color="#000">80</text>
<line x1="42.50" y1="505.10" x2="46.00" y2="505.10" stroke="#000" stroke-width="1.2"/>
<text x="19.21" y="509.30" font-size="12" fill="#000" color="#000">100</text>
<line x1="75.90" y1="644.00" x2="75.90" y2="648.80" stroke="#000" stroke-width="1.2"/>
<rect x="50.40" y="536.70" width="9.2" height="107.60" fill="#9c0c4e"/>
<text x="57.80" y="534.20" font-size="8.5" fill="#000" style="stroke-width:0.08px" transform="rotate(-90 57.80 534.20)">77.3</text>
<rect x="64.40" y="600.31" width="9.2" height="43.99" fill="#ec1878"/>
<text x="71.80" y="597.81" font-size="8.5" fill="#000" style="stroke-width:0.08px" transform="rotate(-90 71.80 597.81)">31.6</text>
<rect x="78.40" y="539.90" width="9.2" height="104.40" fill="#000"/>
<text x="85.80" y="537.40" font-size="8.5" fill="#000" style="stroke-width:0.08px" transform="rotate(-90 85.80 537.40)">75.0</text>
<rect x="92.40" y="549.09" width="9.2" height="95.21" fill="#a0a0a4"/>
<text x="99.80" y="546.59" font-size="8.5" fill="#000" style="stroke-width:0.08px" transform="rotate(-90 99.80 546.59)">68.4</text>
<text x="79.60" y="660.00" font-size="11.9" fill="#000" text-anchor="end" transform="rotate(-45 79.60 660.00)">Fatigue</text>
<line x1="141.00" y1="644.00" x2="141.00" y2="648.80" stroke="#000" stroke-width="1.2"/>
<rect x="115.50" y="555.77" width="9.2" height="88.53" fill="#9c0c4e"/>
<text x="122.90" y="553.27" font-size="8.5" fill="#000" style="stroke-width:0.08px" transform="rotate(-90 122.90 553.27)">63.6</text>
<rect x="129.50" y="636.92" width="9.2" height="7.38" fill="#ec1878"/>
<text x="136.90" y="634.42" font-size="8.5" fill="#000" style="stroke-width:0.08px" transform="rotate(-90 136.90 634.42)">5.3</text>
<rect x="143.50" y="574.70" width="9.2" height="69.60" fill="#000"/>
<text x="150.90" y="572.20" font-size="8.5" fill="#000" style="stroke-width:0.08px" transform="rotate(-90 150.90 572.20)">50.0</text>
<rect x="157.50" y="600.31" width="9.2" height="43.99" fill="#a0a0a4"/>
<text x="164.90" y="597.81" font-size="8.5" fill="#000" style="stroke-width:0.08px" transform="rotate(-90 164.90 597.81)">31.6</text>
<text x="144.70" y="660.00" font-size="11.9" fill="#000" text-anchor="end" transform="rotate(-45 144.70 660.00)">Weakness</text>
<line x1="206.10" y1="644.00" x2="206.10" y2="648.80" stroke="#000" stroke-width="1.2"/>
<rect x="180.60" y="574.70" width="9.2" height="69.60" fill="#9c0c4e"/>
<text x="188.00" y="572.20" font-size="8.5" fill="#000" style="stroke-width:0.08px" transform="rotate(-90 188.00 572.20)">50.0</text>
<rect x="194.60" y="636.92" width="9.2" height="7.38" fill="#ec1878"/>
<text x="202.00" y="634.42" font-size="8.5" fill="#000" style="stroke-width:0.08px" transform="rotate(-90 202.00 634.42)">5.3</text>
<rect x="208.60" y="560.78" width="9.2" height="83.52" fill="#000"/>
<text x="216.00" y="558.28" font-size="8.5" fill="#000" style="stroke-width:0.08px" transform="rotate(-90 216.00 558.28)">60.0</text>
<rect x="222.60" y="593.07" width="9.2" height="51.23" fill="#a0a0a4"/>
<text x="230.00" y="590.57" font-size="8.5" fill="#000" style="stroke-width:0.08px" transform="rotate(-90 230.00 590.57)">36.8</text>
<text x="209.80" y="660.00" font-size="11.9" fill="#000" text-anchor="end" transform="rotate(-45 209.80 660.00)">Shortness of breath</text>
<line x1="271.20" y1="644.00" x2="271.20" y2="648.80" stroke="#000" stroke-width="1.2"/>
<rect x="245.70" y="606.30" width="9.2" height="38.00" fill="#9c0c4e"/>
<text x="253.10" y="603.80" font-size="8.5" fill="#000" style="stroke-width:0.08px" transform="rotate(-90 253.10 603.80)">27.3</text>
<text x="267.10" y="641.80" font-size="8.5" fill="#000" style="stroke-width:0.08px" transform="rotate(-90 267.10 641.80)">0</text>
<rect x="273.70" y="616.46" width="9.2" height="27.84" fill="#000"/>
<text x="281.10" y="613.96" font-size="8.5" fill="#000" style="stroke-width:0.08px" transform="rotate(-90 281.10 613.96)">20.0</text>
<rect x="287.70" y="622.31" width="9.2" height="21.99" fill="#a0a0a4"/>
<text x="295.10" y="619.81" font-size="8.5" fill="#000" style="stroke-width:0.08px" transform="rotate(-90 295.10 619.81)">15.8</text>
<text x="274.90" y="660.00" font-size="11.9" fill="#000" text-anchor="end" transform="rotate(-45 274.90 660.00)">Palpitations</text>
<line x1="336.30" y1="644.00" x2="336.30" y2="648.80" stroke="#000" stroke-width="1.2"/>
<rect x="310.80" y="625.37" width="9.2" height="18.93" fill="#9c0c4e"/>
<text x="318.20" y="622.87" font-size="8.5" fill="#000" style="stroke-width:0.08px" transform="rotate(-90 318.20 622.87)">13.6</text>
<rect x="324.80" y="636.92" width="9.2" height="7.38" fill="#ec1878"/>
<text x="332.20" y="634.42" font-size="8.5" fill="#000" style="stroke-width:0.08px" transform="rotate(-90 332.20 634.42)">5.3</text>
<rect x="338.80" y="630.38" width="9.2" height="13.92" fill="#000"/>
<text x="346.20" y="627.88" font-size="8.5" fill="#000" style="stroke-width:0.08px" transform="rotate(-90 346.20 627.88)">10.0</text>
<rect x="352.80" y="622.31" width="9.2" height="21.99" fill="#a0a0a4"/>
<text x="360.20" y="619.81" font-size="8.5" fill="#000" style="stroke-width:0.08px" transform="rotate(-90 360.20 619.81)">15.8</text>
<text x="340.00" y="660.00" font-size="11.9" fill="#000" text-anchor="end" transform="rotate(-45 340.00 660.00)">Lightheadedness</text>
<line x1="401.40" y1="644.00" x2="401.40" y2="648.80" stroke="#000" stroke-width="1.2"/>
<rect x="375.90" y="625.37" width="9.2" height="18.93" fill="#9c0c4e"/>
<text x="383.30" y="622.87" font-size="8.5" fill="#000" style="stroke-width:0.08px" transform="rotate(-90 383.30 622.87)">13.6</text>
<text x="397.30" y="641.80" font-size="8.5" fill="#000" style="stroke-width:0.08px" transform="rotate(-90 397.30 641.80)">0</text>
<rect x="403.90" y="637.34" width="9.2" height="6.96" fill="#000"/>
<text x="411.30" y="634.84" font-size="8.5" fill="#000" style="stroke-width:0.08px" transform="rotate(-90 411.30 634.84)">5.0</text>
<rect x="417.90" y="636.92" width="9.2" height="7.38" fill="#a0a0a4"/>
<text x="425.30" y="634.42" font-size="8.5" fill="#000" style="stroke-width:0.08px" transform="rotate(-90 425.30 634.42)">5.3</text>
<text x="405.10" y="660.00" font-size="11.9" fill="#000" text-anchor="end" transform="rotate(-45 405.10 660.00)">Chest pain</text>
<rect x="276.2" y="492.70" width="11" height="5.8" fill="#9c0c4e"/>
<text x="293.3" y="498.50" font-size="8.6" fill="#000" transform="translate(293.3 0) scale(1.09 1) translate(-293.3 0)">Sutimlimab: Baseline (n=22)</text>
<rect x="276.2" y="507.55" width="11" height="5.8" fill="#ec1878"/>
<text x="293.3" y="513.35" font-size="8.6" fill="#000" transform="translate(293.3 0) scale(1.09 1) translate(-293.3 0)">Sutimlimab: Week 26 (n=19)</text>
<rect x="276.2" y="522.40" width="11" height="5.8" fill="#000"/>
<text x="293.3" y="528.20" font-size="8.6" fill="#000" transform="translate(293.3 0) scale(1.09 1) translate(-293.3 0)">Placebo: Baseline (n=20)</text>
<rect x="276.2" y="537.25" width="11" height="5.8" fill="#a0a0a4"/>
<text x="293.3" y="543.05" font-size="8.6" fill="#000" transform="translate(293.3 0) scale(1.09 1) translate(-293.3 0)">Placebo: Week 26 (n=19)</text>
<text x="12.86" y="750.80" font-size="10.4" fill="#000" color="#000" textLength="453.32" lengthAdjust="spacingAndGlyphs">B, baseline; CIC, clinically important change; FACIT-Fatigue, Functional Assessment of</text>
<text x="13.21" y="764.20" font-size="10.4" fill="#000" color="#000" textLength="272.83" lengthAdjust="spacingAndGlyphs">Chronic Illness Therapy-Fatigue; SE, standard error.</text>
</svg>
</body></html>
